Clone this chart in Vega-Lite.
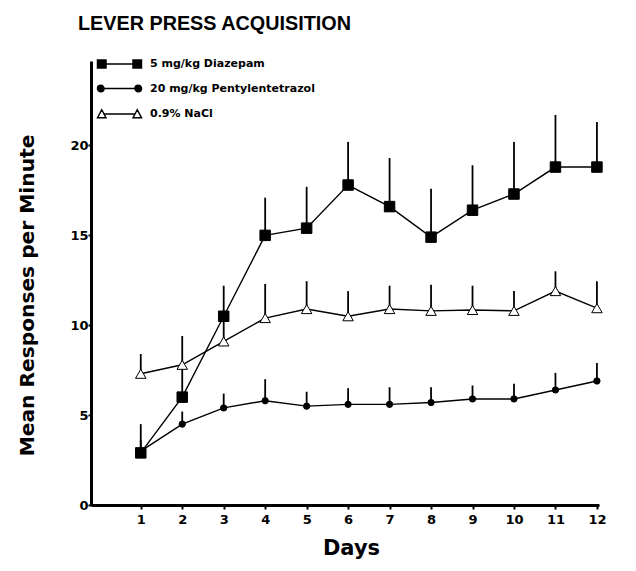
{
  "$schema": "https://vega.github.io/schema/vega-lite/v6.json",
  "width": 508,
  "height": 444,
  "autosize": "none",
  "padding": {"left": 91, "top": 61, "right": 37, "bottom": 66},
  "background": "white",
  "title": {
    "text": "LEVER PRESS ACQUISITION",
    "anchor": "start",
    "frame": "group",
    "dx": -13,
    "offset": 24,
    "font": "Liberation Sans",
    "fontSize": 19.8,
    "fontWeight": "bold",
    "color": "black"
  },
  "data": {
    "values": [
      {"day": 1, "series": "5 mg/kg Diazepam", "mean": 2.9, "upper": 4.5},
      {"day": 2, "series": "5 mg/kg Diazepam", "mean": 6.0, "upper": 7.9},
      {"day": 3, "series": "5 mg/kg Diazepam", "mean": 10.5, "upper": 12.2},
      {"day": 4, "series": "5 mg/kg Diazepam", "mean": 15.0, "upper": 17.1},
      {"day": 5, "series": "5 mg/kg Diazepam", "mean": 15.4, "upper": 17.7},
      {"day": 6, "series": "5 mg/kg Diazepam", "mean": 17.8, "upper": 20.2},
      {"day": 7, "series": "5 mg/kg Diazepam", "mean": 16.6, "upper": 19.3},
      {"day": 8, "series": "5 mg/kg Diazepam", "mean": 14.9, "upper": 17.6},
      {"day": 9, "series": "5 mg/kg Diazepam", "mean": 16.4, "upper": 18.9},
      {"day": 10, "series": "5 mg/kg Diazepam", "mean": 17.3, "upper": 20.2},
      {"day": 11, "series": "5 mg/kg Diazepam", "mean": 18.8, "upper": 21.7},
      {"day": 12, "series": "5 mg/kg Diazepam", "mean": 18.8, "upper": 21.3},
      {"day": 1, "series": "20 mg/kg Pentylentetrazol", "mean": 3.0, "upper": 3.6},
      {"day": 2, "series": "20 mg/kg Pentylentetrazol", "mean": 4.5, "upper": 5.2},
      {"day": 3, "series": "20 mg/kg Pentylentetrazol", "mean": 5.4, "upper": 6.2},
      {"day": 4, "series": "20 mg/kg Pentylentetrazol", "mean": 5.8, "upper": 7.0},
      {"day": 5, "series": "20 mg/kg Pentylentetrazol", "mean": 5.5, "upper": 6.3},
      {"day": 6, "series": "20 mg/kg Pentylentetrazol", "mean": 5.6, "upper": 6.5},
      {"day": 7, "series": "20 mg/kg Pentylentetrazol", "mean": 5.6, "upper": 6.55},
      {"day": 8, "series": "20 mg/kg Pentylentetrazol", "mean": 5.7, "upper": 6.55},
      {"day": 9, "series": "20 mg/kg Pentylentetrazol", "mean": 5.9, "upper": 6.65},
      {"day": 10, "series": "20 mg/kg Pentylentetrazol", "mean": 5.9, "upper": 6.75},
      {"day": 11, "series": "20 mg/kg Pentylentetrazol", "mean": 6.4, "upper": 7.35},
      {"day": 12, "series": "20 mg/kg Pentylentetrazol", "mean": 6.9, "upper": 7.9},
      {"day": 1, "series": "0.9% NaCl", "mean": 7.3, "upper": 8.4},
      {"day": 2, "series": "0.9% NaCl", "mean": 7.8, "upper": 9.4},
      {"day": 3, "series": "0.9% NaCl", "mean": 9.1, "upper": 10.6},
      {"day": 4, "series": "0.9% NaCl", "mean": 10.4, "upper": 12.3},
      {"day": 5, "series": "0.9% NaCl", "mean": 10.9, "upper": 12.45},
      {"day": 6, "series": "0.9% NaCl", "mean": 10.5, "upper": 11.9},
      {"day": 7, "series": "0.9% NaCl", "mean": 10.9, "upper": 12.2},
      {"day": 8, "series": "0.9% NaCl", "mean": 10.8, "upper": 12.25},
      {"day": 9, "series": "0.9% NaCl", "mean": 10.85, "upper": 12.2},
      {"day": 10, "series": "0.9% NaCl", "mean": 10.8, "upper": 11.9},
      {"day": 11, "series": "0.9% NaCl", "mean": 11.9, "upper": 13.0},
      {"day": 12, "series": "0.9% NaCl", "mean": 10.95, "upper": 12.45}
    ]
  },
  "encoding": {
    "x": {
      "field": "day",
      "type": "quantitative",
      "scale": {"domain": [-0.2, 12.05], "nice": false, "zero": false},
      "axis": {
        "title": "Days",
        "values": [1, 2, 3, 4, 5, 6, 7, 8, 9, 10, 11, 12],
        "titleX": 260,
        "titlePadding": 11,
        "tickSize": 4,
        "labelPadding": 4
      }
    },
    "y": {
      "field": "mean",
      "type": "quantitative",
      "scale": {"domain": [0, 24.7], "nice": false},
      "axis": {
        "title": "Mean Responses per Minute",
        "values": [0, 5, 10, 15, 20],
        "titleX": -64,
        "titleY": 234,
        "titleBaseline": "middle",
        "titleFontSize": 20.2,
        "tickSize": 3,
        "labelPadding": 0
      }
    }
  },
  "layer": [
    {
      "mark": {"type": "rule", "color": "black", "strokeWidth": 1.8},
      "encoding": {"y2": {"field": "upper"}}
    },
    {
      "mark": {"type": "line", "color": "black", "strokeWidth": 1.4},
      "encoding": {"detail": {"field": "series"}}
    },
    {
      "mark": {"type": "point", "filled": true, "stroke": "black", "strokeWidth": 1, "opacity": 1},
      "encoding": {
        "shape": {
          "field": "series",
          "type": "nominal",
          "scale": {
            "domain": ["5 mg/kg Diazepam", "20 mg/kg Pentylentetrazol", "0.9% NaCl"],
            "range": ["square", "circle", "triangle-up"]
          },
          "legend": null
        },
        "fill": {
          "condition": {"test": "datum.series === '0.9% NaCl'", "value": "white"},
          "value": "black"
        },
        "size": {
          "condition": {"test": "datum.series === '20 mg/kg Pentylentetrazol'", "value": 40},
          "value": 110
        }
      }
    },
    {
      "transform": [{"filter": "datum.day > 100"}],
      "mark": {"type": "point", "filled": true, "stroke": "black", "strokeWidth": 1.3, "opacity": 1, "size": 100},
      "encoding": {
        "shape": {
          "field": "series",
          "type": "nominal",
          "scale": {
            "domain": ["5 mg/kg Diazepam", "20 mg/kg Pentylentetrazol", "0.9% NaCl"],
            "range": [
              "M-4.4,-0.8H-2.7V0.8H-4.4Z M-2.7,0H2.7 M2.7,-0.8H4.4V0.8H2.7Z",
              "M-4.4,0A0.65,0.65 0 1,0 -3.1,0A0.65,0.65 0 1,0 -4.4,0Z M-3.1,0H3.1 M3.1,0A0.65,0.65 0 1,0 4.4,0A0.65,0.65 0 1,0 3.1,0Z",
              "M-4.4,0.75L-3.55,-0.85L-2.7,0.75Z M-3.1,0H3.1 M2.7,0.75L3.55,-0.85L4.4,0.75Z"
            ]
          },
          "legend": {
            "title": null,
            "orient": "none",
            "legendX": 22.5,
            "legendY": -3,
            "padding": 0,
            "symbolSize": 100,
            "labelOffset": 24.5,
            "rowPadding": 10.5,
            "labelLimit": 400,
            "labelFont": "DejaVu Sans",
            "labelFontSize": 11,
            "labelFontWeight": "bold",
            "labelColor": "black"
          }
        },
        "fill": {
          "field": "series",
          "type": "nominal",
          "scale": {
            "domain": ["5 mg/kg Diazepam", "20 mg/kg Pentylentetrazol", "0.9% NaCl"],
            "range": ["black", "black", "white"]
          },
          "legend": {
            "title": null,
            "orient": "none",
            "legendX": 22.5,
            "legendY": -3,
            "padding": 0,
            "symbolSize": 100,
            "labelOffset": 24.5,
            "rowPadding": 10.5,
            "labelLimit": 400,
            "labelFont": "DejaVu Sans",
            "labelFontSize": 11,
            "labelFontWeight": "bold",
            "labelColor": "black"
          }
        }
      }
    }
  ],
  "resolve": {"scale": {"shape": "independent", "fill": "independent"}},
  "config": {
    "font": "DejaVu Sans",
    "view": {"stroke": null},
    "axis": {
      "grid": false,
      "domainColor": "black",
      "domainWidth": 3,
      "tickColor": "black",
      "tickWidth": 2,
      "labelColor": "black",
      "labelFont": "DejaVu Sans",
      "labelFontSize": 13,
      "labelFontWeight": "bold",
      "titleColor": "black",
      "titleFont": "DejaVu Sans",
      "titleFontSize": 21,
      "titleFontWeight": "bold"
    }
  }
}
